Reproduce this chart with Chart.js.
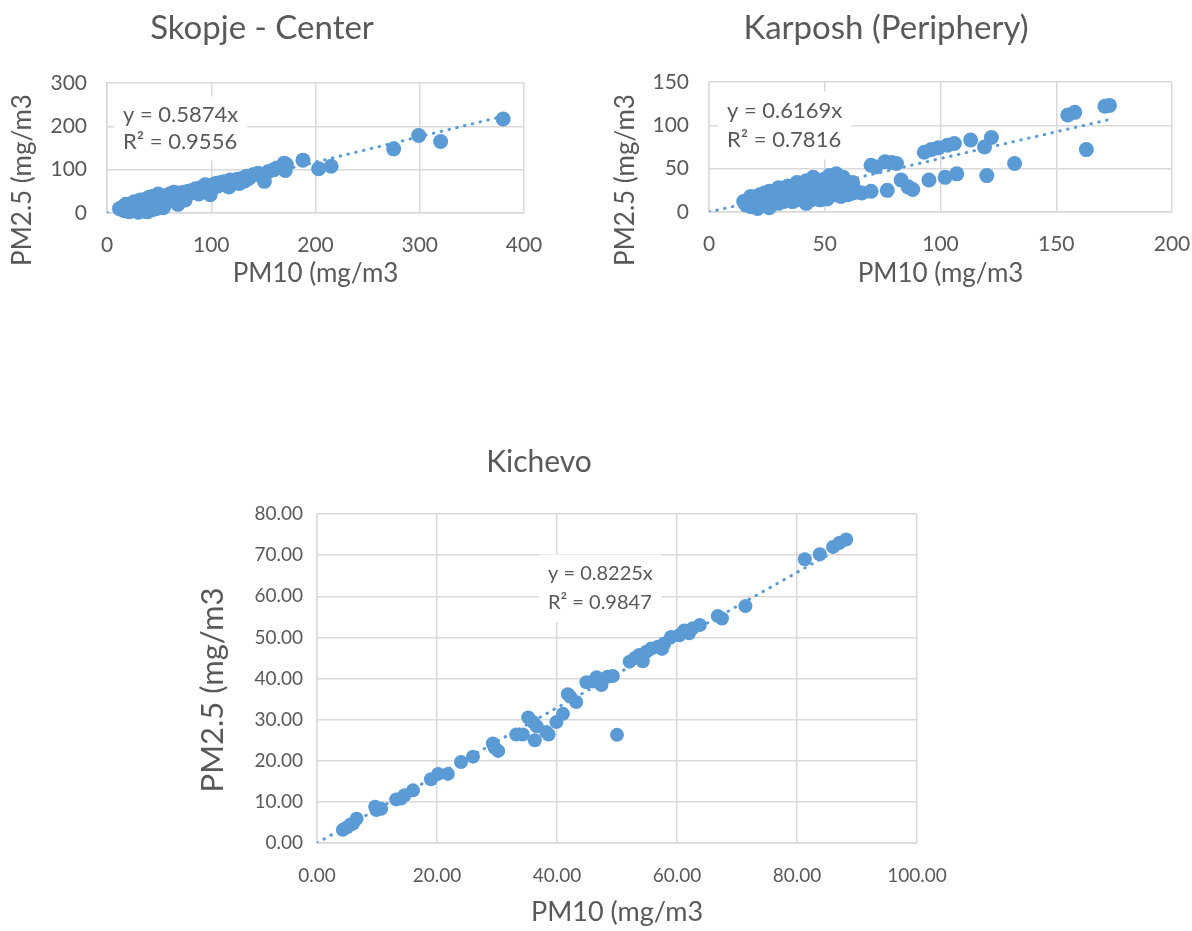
<!DOCTYPE html>
<html>
<head>
<meta charset="utf-8">
<title>PM10 vs PM2.5</title>
<script src="https://cdn.jsdelivr.net/npm/chart.js@4.4.1/dist/chart.umd.min.js"></script>
<style>
  body { margin: 0; background: #fff; }
  canvas { position: absolute; }
</style>
</head>
<body>
<canvas id="skopje" width="546" height="310" style="left:0;top:0"></canvas>
<canvas id="karposh" width="592" height="310" style="left:600px;top:0"></canvas>
<canvas id="kichevo" width="790" height="501" style="left:161px;top:430px"></canvas>
<script>
// Skopje - Center
const skopjePM10 = [12, 14, 15, 16, 17, 18, 19, 20, 21, 22, 23, 24, 25, 26, 27, 28, 29, 30, 31, 32, 33, 34, 35, 36, 37, 38, 39, 40, 41, 42, 43, 44, 45, 46, 47, 48,
    50, 52, 53, 55, 56, 57, 58, 60, 62, 63, 65, 67, 68, 70, 72, 74, 76, 78, 80, 82, 84, 86, 88, 90, 92, 94, 95, 97, 99, 100,
    102, 104, 106, 108, 110, 112, 115, 117, 118, 120, 122, 125, 127, 130, 132, 134, 136, 140, 145, 148, 151, 155, 160, 163, 170, 171, 172, 188, 203, 215, 275, 299, 320, 380,
    18, 22, 25, 28, 30, 33, 35, 38, 40, 42, 45, 48, 50, 52, 55, 58, 60, 62, 65, 20, 26, 32, 36, 44, 47, 54, 43, 49, 64, 66, 75, 85, 88];
const skopjePM25 = [10, 12, 8, 14, 5, 10, 16, 12, 3, 18, 8, 14, 20, 10, 16, 5, 22, 12, 18, 8, 24, 14, 20, 10, 28, 16, 3, 22, 30, 18, 12, 34, 25, 20, 28, 15,
    30, 24, 35, 18, 28, 40, 32, 36, 44, 30, 42, 38, 20, 46, 40, 48, 44, 50, 46, 52, 48, 55, 50, 58, 54, 65, 60, 56, 42, 64,
    60, 68, 62, 70, 66, 72, 68, 60, 76, 70, 74, 78, 68, 80, 74, 85, 80, 88, 92, 86, 73, 96, 100, 104, 115, 98, 112, 122, 102, 108, 148, 179, 165, 217,
    20, 4, 12, 24, 2, 14, 30, 8, 36, 26, 32, 38, 20, 40, 34, 26, 44, 38, 30, 8, 26, 30, 4, 8, 10, 12, 38, 44, 48, 46, 30, 56, 44];
const skopjeXTicks = [0, 100, 200, 300, 400];
const skopjeYTicks = [0, 100, 200, 300];
const skopjeFit = ['y = 0.5874x', 'R² = 0.9556'];
const skopjeSlope = 0.5874;

// Karposh (Periphery)
const karposhPM10 = [15, 16, 17, 18, 19, 20, 21, 22, 23, 24, 25, 26, 27, 28, 29, 30, 31, 32, 33, 34, 35, 36, 37, 38, 39, 40, 41, 42, 43, 44, 45, 46, 47, 48,
    49, 50, 51, 52, 53, 54, 55, 56, 57, 58, 59, 60, 61, 62, 64, 70, 70, 72, 76, 77, 79, 81, 83, 86, 88, 93, 95, 96, 99, 102,
    103, 106, 107, 113, 119, 120, 122, 132, 155, 158, 163, 171, 173, 45, 52, 55, 58, 62, 66,
    18, 20, 22, 25, 26, 28, 30, 32, 34, 36, 38, 40, 42, 44, 46, 48, 50, 52, 54, 56, 58, 60, 62, 47, 53, 57, 41, 35, 24, 21, 29];
const karposhPM25 = [12, 8, 14, 6, 10, 16, 12, 20, 8, 15, 18, 5, 22, 12, 24, 10, 20, 26, 16, 22, 28, 18, 25, 14, 30, 20, 32, 10, 26, 34, 18, 28, 36, 22,
    30, 38, 15, 32, 25, 40, 20, 34, 28, 38, 24, 32, 26, 22, 23, 24, 54, 52, 58, 25, 57, 56, 37, 29, 26, 69, 37, 72, 74, 40,
    77, 79, 44, 83, 75, 42, 86, 56, 112, 115, 72, 122, 123, 40, 42, 44, 40, 30, 22,
    18, 6, 14, 10, 24, 18, 28, 12, 30, 12, 34, 28, 36, 14, 38, 14, 28, 18, 30, 40, 30, 20, 34, 24, 36, 18, 24, 16, 22, 4, 16];
const karposhXTicks = [0, 50, 100, 150, 200];
const karposhYTicks = [0, 50, 100, 150];
const karposhFit = ['y = 0.6169x', 'R² = 0.7816'];
const karposhSlope = 0.6169;

// Kichevo
const kichevoPM10 = [4.3, 5.0, 5.6, 6.0, 6.6, 9.7, 9.9, 10.7, 13.2, 14.0, 14.6, 16.0, 19.0, 20.2, 21.8, 24.0, 26.0, 29.3, 29.6, 30.2, 33.2,
    34.3, 35.2, 36.0, 36.6, 36.3, 38.2, 38.6, 39.9, 41.0, 41.8, 42.2, 43.2, 44.9, 46.0, 46.6, 47.4, 48.4, 49.3, 50.0, 52.1,
    53.0, 53.7, 54.3, 54.9, 55.7, 56.8, 57.5, 57.9, 59.0, 60.4, 61.2, 62.0, 62.6, 63.8, 66.8, 67.5, 71.4, 81.3, 83.8, 86.0, 87.1, 88.2];
const kichevoPM25 = [3.2, 3.8, 4.5, 4.7, 5.9, 8.8, 8.0, 8.3, 10.6, 10.8, 11.6, 12.8, 15.5, 16.8, 16.8, 19.7, 21.0, 24.2, 23.2, 22.4, 26.4,
    26.4, 30.5, 29.4, 28.4, 25.0, 27.0, 26.4, 29.4, 31.4, 36.2, 35.6, 34.3, 39.1, 39.3, 40.3, 38.4, 40.4, 40.6, 26.3, 44.1,
    45.0, 45.7, 44.2, 46.5, 47.3, 47.7, 47.2, 48.5, 50.1, 50.5, 51.7, 51.0, 52.2, 53.0, 55.2, 54.6, 57.6, 69.0, 70.2, 72.0, 73.0, 73.8];
const kichevoXTicks = [0, 20, 40, 60, 80, 100];
const kichevoYTicks = [0, 10, 20, 30, 40, 50, 60, 70, 80];
const kichevoFit = ['y = 0.8225x', 'R² = 0.9847'];
const kichevoSlope = 0.8225;

const textGrey = '#595959';
const pointBlue = '#5b9bd5';
const gridGrey = '#d9d9d9';
const fontFamily = 'Lato, Carlito, Calibri, sans-serif';

// equation box + rotated y title, placed the way excel does it
const excelLabels = {
    id: 'excelLabels',
    afterDraw(chart, args, opts) {
        const ctx = chart.ctx;
        const area = chart.chartArea;
        ctx.save();
        ctx.font = opts.eqFont;
        ctx.textBaseline = 'middle';
        var w = Math.max(...opts.eqLines.map(t => ctx.measureText(t).width));
        var x = area.left + opts.eqX;
        var y = area.top + opts.eqY;
        ctx.fillStyle = '#fff';
        ctx.fillRect(x - 9, y - opts.eqLineHeight / 2 - 5, w + 18, opts.eqLineHeight * opts.eqLines.length + 10);
        ctx.fillStyle = textGrey;
        opts.eqLines.forEach((t, i) => ctx.fillText(t, x, y + i * opts.eqLineHeight));

        ctx.font = opts.yTitleFont;
        ctx.textAlign = 'center';
        ctx.translate(opts.yTitleX, opts.yTitleY);
        ctx.rotate(-Math.PI / 2);
        ctx.fillText(opts.yTitle, 0, 0);
        ctx.restore();
    }
};

function drawScatter(id, xs, ys, slope, xTicks, yTicks, fit, box) {
    var canvas = document.getElementById(id);
    var points = xs.map((x, i) => ({ x: x, y: ys[i] }));
    var xMax = Math.max(...xs);
    var fmt = v => box.decimals ? Number(v).toFixed(box.decimals) : v;

    var config = {
        type: 'scatter',
        data: {
            datasets: [
                {
                    data: points,
                    backgroundColor: pointBlue,
                    borderWidth: 0,
                    pointRadius: box.radius,
                    pointHoverRadius: box.radius,
                    clip: false,
                    order: 1,
                },
                {
                    data: [{ x: 0, y: 0 }, { x: xMax, y: slope * xMax }],
                    showLine: true,
                    pointRadius: 0,
                    borderColor: pointBlue,
                    borderWidth: 3,
                    borderDash: [0.5, 7.5],
                    borderCapStyle: 'round',
                    order: 2,
                },
            ],
        },
        options: {
            responsive: false,
            animation: false,
            events: [],
            layout: {
                padding: { left: 0, top: 0, bottom: 0, right: canvas.width - box.right },
            },
            plugins: {
                legend: { display: false },
                tooltip: { enabled: false },
                title: {
                    display: true,
                    text: box.title,
                    color: textGrey,
                    font: { family: fontFamily, size: box.titleSize, weight: 'normal', lineHeight: 1.2 },
                    padding: { top: box.titlePad, bottom: box.top - box.titlePad - box.titleSize * 1.2 },
                },
                excelLabels: {
                    eqLines: fit,
                    eqFont: box.eqSize + 'px ' + fontFamily,
                    eqLineHeight: box.eqLineHeight,
                    eqX: box.eqX,
                    eqY: box.eqY,
                    yTitle: 'PM2.5 (mg/m3',
                    yTitleFont: box.yTitleSize + 'px ' + fontFamily,
                    yTitleX: box.yTitleX,
                    yTitleY: box.yTitleY,
                },
            },
            scales: {
                x: {
                    type: 'linear',
                    min: xTicks[0],
                    max: xTicks[xTicks.length - 1],
                    ticks: {
                        stepSize: xTicks[1] - xTicks[0],
                        color: textGrey,
                        font: { family: fontFamily, size: box.tickSize },
                        padding: box.xTickPad,
                        callback: fmt,
                    },
                    grid: { color: gridGrey, lineWidth: 1.5, drawTicks: false },
                    border: { color: gridGrey, width: 1.5 },
                    title: {
                        display: true,
                        text: 'PM10 (mg/m3',
                        color: textGrey,
                        font: { family: fontFamily, size: box.xTitleSize, lineHeight: 1.2 },
                        padding: { top: 0, bottom: box.xTitlePad },
                    },
                    afterFit: function (s) {
                        s.height = canvas.height - box.bottom;
                        s.paddingLeft = 0;
                        s.paddingRight = 0;
                    },
                },
                y: {
                    type: 'linear',
                    min: yTicks[0],
                    max: yTicks[yTicks.length - 1],
                    ticks: {
                        stepSize: yTicks[1] - yTicks[0],
                        color: textGrey,
                        font: { family: fontFamily, size: box.tickSize },
                        padding: box.yTickPad,
                        callback: fmt,
                    },
                    grid: { color: gridGrey, lineWidth: 1.5, drawTicks: false },
                    border: { color: gridGrey, width: 1.5 },
                    afterFit: function (s) {
                        s.width = box.left;
                        s.paddingTop = 0;
                        s.paddingBottom = 0;
                    },
                },
            },
        },
        plugins: [excelLabels],
    };
    return new Chart(canvas.getContext('2d'), config);
}

drawScatter('skopje', skopjePM10, skopjePM25, skopjeSlope, skopjeXTicks, skopjeYTicks, skopjeFit, {
    title: 'Skopje - Center', titleSize: 33, titlePad: 9,
    left: 107, top: 83, right: 524, bottom: 213,
    tickSize: 21, xTickPad: 20, yTickPad: 20, xTitleSize: 26, xTitlePad: 21,
    yTitleSize: 26, yTitleX: 23, yTitleY: 180,
    eqSize: 22, eqLineHeight: 27, eqX: 16, eqY: 32, radius: 7.5,
});

drawScatter('karposh', karposhPM10, karposhPM25, karposhSlope, karposhXTicks, karposhYTicks, karposhFit, {
    title: 'Karposh (Periphery)', titleSize: 33, titlePad: 9,
    left: 109, top: 82, right: 572, bottom: 212,
    tickSize: 21, xTickPad: 20, yTickPad: 20, xTitleSize: 26, xTitlePad: 21,
    yTitleSize: 26, yTitleX: 26, yTitleY: 180,
    eqSize: 22, eqLineHeight: 29, eqX: 18, eqY: 29, radius: 7.5,
});

drawScatter('kichevo', kichevoPM10, kichevoPM25, kichevoSlope, kichevoXTicks, kichevoYTicks, kichevoFit, {
    title: 'Kichevo', titleSize: 30, titlePad: 14,
    left: 156, top: 84, right: 756, bottom: 413,
    tickSize: 19, xTickPad: 21, yTickPad: 14, xTitleSize: 27, xTitlePad: 3,
    yTitleSize: 31, yTitleX: 52, yTitleY: 260,
    eqSize: 20, eqLineHeight: 29, eqX: 231, eqY: 60, radius: 7, decimals: 2,
});
</script>
</body>
</html>
